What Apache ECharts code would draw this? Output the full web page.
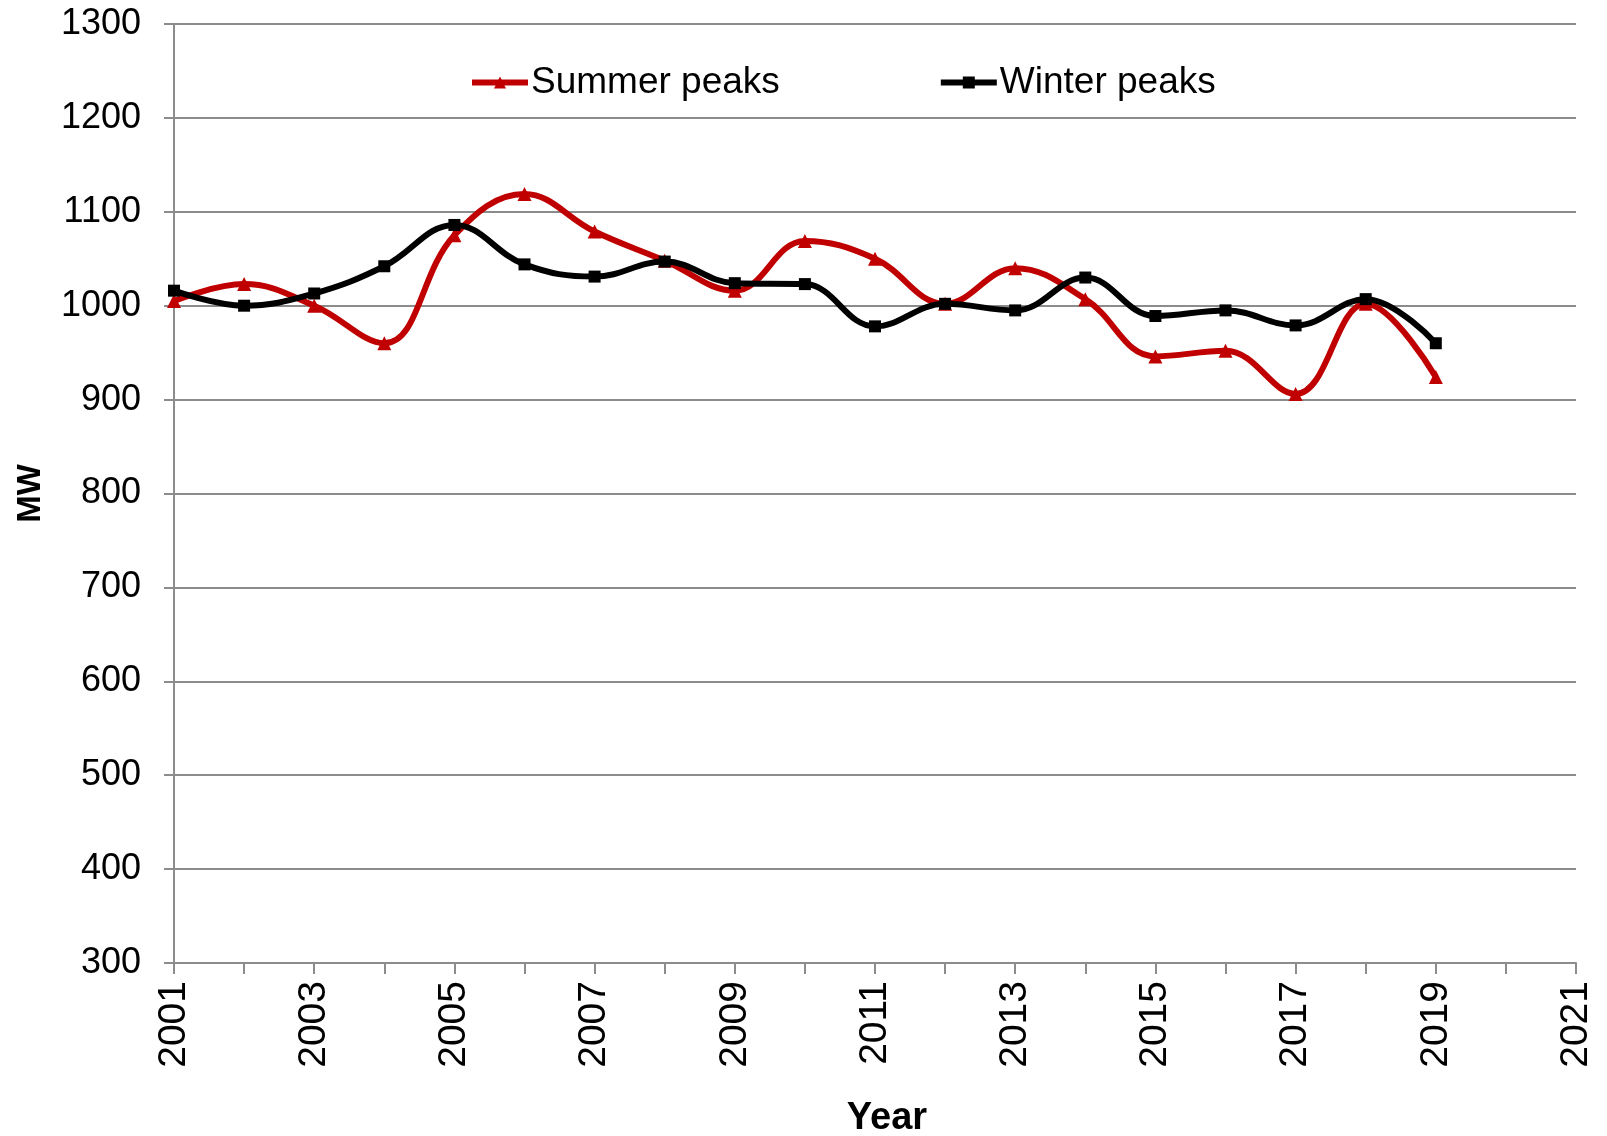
<!DOCTYPE html>
<html><head><meta charset="utf-8">
<script src="https://cdn.jsdelivr.net/npm/echarts@6/dist/echarts.min.js"></script>
<style>html,body{margin:0;padding:0;background:#fff}#c{width:1607px;height:1136px}</style>
</head><body><div id="c"></div>
<script>
const years = [2001,2002,2003,2004,2005,2006,2007,2008,2009,2010,2011,2012,2013,2014,2015,2016,2017,2018,2019];
const summerPeaks = [1005,1023,1000,960,1075,1119,1079,1048,1016,1069,1050,1002,1040,1007,946,952,906,1002,924];
const winterPeaks = [1016,1000,1013,1042,1086,1044,1031,1047,1024,1023,978,1002,995,1030,989,995,979,1007,960];
const seriesNames = ['Summer peaks','Winter peaks'];

const F = 'Liberation Sans, Arial, sans-serif';
const chart = echarts.init(document.getElementById('c'));
chart.setOption({
  animation:false,
  backgroundColor:'#fff',
  grid:{left:174,right:31,top:24,bottom:173,containLabel:false,outerBoundsMode:'none'},
  legend:{
    top:59,left:464,itemGap:158,itemWidth:56,itemHeight:15,
    textStyle:{fontFamily:F,fontSize:37,color:'#000',padding:[0,0,0,-2]},
    data:[
      {name:seriesNames[0],lineStyle:{width:6,color:'#c00000'}},
      {name:seriesNames[1],lineStyle:{width:6,color:'#000'}}
    ]
  },
  xAxis:{
    type:'value',min:2001,max:2021,interval:1,
    name:'Year',nameLocation:'middle',nameGap:137,
    nameTextStyle:{fontFamily:F,fontSize:38,fontWeight:'bold',color:'#000',padding:[0,0,0,24]},
    axisLine:{lineStyle:{color:'#8c8c8c',width:2}},
    axisTick:{show:true,length:11,lineStyle:{color:'#8c8c8c',width:2}},
    splitLine:{show:false},
    axisLabel:{rotate:90,fontFamily:F,fontSize:39,color:'#000',margin:18,
      formatter:v=> (v%2===1)?String(v):''}
  },
  yAxis:{
    type:'value',min:300,max:1300,interval:100,
    name:'MW',nameLocation:'middle',nameGap:127,nameRotate:90,
    nameTextStyle:{fontFamily:F,fontSize:33,fontWeight:'bold',color:'#000'},
    axisLine:{show:true,lineStyle:{color:'#8c8c8c',width:2}},
    axisTick:{show:true,length:10,lineStyle:{color:'#8c8c8c',width:2}},
    splitLine:{lineStyle:{color:'#8c8c8c',width:2}},
    axisLabel:{fontFamily:F,fontSize:36,color:'#000',margin:33,formatter:v=>String(v)}
  },
  series:[
    {name:seriesNames[0],type:'line',smooth:0.4,data:years.map((y,i)=>[y,summerPeaks[i]]),
     symbol:'triangle',symbolSize:14,lineStyle:{width:6,color:'#c00000'},itemStyle:{color:'#c00000'}},
    {name:seriesNames[1],type:'line',smooth:0.4,data:years.map((y,i)=>[y,winterPeaks[i]]),
     symbol:'rect',symbolSize:12,lineStyle:{width:6,color:'#000'},itemStyle:{color:'#000'}}
  ]
});
</script></body></html>
